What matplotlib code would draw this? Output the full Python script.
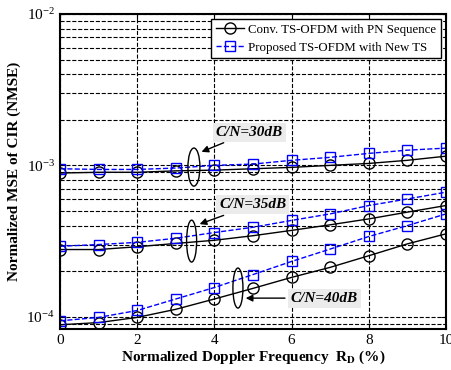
import numpy as np
import matplotlib.pyplot as plt
from matplotlib.patches import Ellipse

plt.rcParams['font.family'] = ['Liberation Serif', 'DejaVu Serif']
plt.rcParams['mathtext.fontset'] = 'stix'

doppler = [0, 1, 2, 3, 4, 5, 6, 7, 8, 9, 10]

conv_30 = [8.9e-4, 9.0e-4, 9.0e-4, 9.2e-4, 9.3e-4, 9.5e-4, 9.7e-4, 1.0e-3, 1.03e-3, 1.08e-3, 1.15e-3]
prop_30 = [9.5e-4, 9.4e-4, 9.4e-4, 9.6e-4, 1.0e-3, 1.02e-3, 1.08e-3, 1.13e-3, 1.2e-3, 1.26e-3, 1.3e-3]
conv_35 = [2.78e-4, 2.78e-4, 2.9e-4, 3.05e-4, 3.2e-4, 3.43e-4, 3.72e-4, 4.05e-4, 4.43e-4, 4.91e-4, 5.43e-4]
prop_35 = [2.92e-4, 3.0e-4, 3.1e-4, 3.3e-4, 3.6e-4, 3.9e-4, 4.33e-4, 4.78e-4, 5.43e-4, 6.0e-4, 6.65e-4]
conv_40 = [8.85e-5, 9.15e-5, 9.9e-5, 1.12e-4, 1.31e-4, 1.54e-4, 1.82e-4, 2.12e-4, 2.53e-4, 3.03e-4, 3.53e-4]
prop_40 = [9.4e-5, 9.9e-5, 1.1e-4, 1.31e-4, 1.56e-4, 1.9e-4, 2.32e-4, 2.8e-4, 3.39e-4, 4.0e-4, 4.78e-4]

labels = ['Conv. TS-OFDM with PN Sequence', 'Proposed TS-OFDM with New TS']

fig = plt.figure(figsize=(4.52, 3.70), dpi=100)
ax = fig.add_axes([0.1327, 0.1108, 0.854, 0.8514])

conv_style = dict(color='black', linestyle='-', linewidth=1.0, marker='o', markersize=8,
                  markerfacecolor='none', markeredgewidth=1.0)
prop_style = dict(color='#0000ff', linestyle='--', linewidth=1.0, marker='s', markersize=7,
                  markerfacecolor='none', markeredgewidth=1.0)

ax.plot(doppler, conv_30, label=labels[0], **conv_style)
ax.plot(doppler, prop_30, label=labels[1], **prop_style)
ax.plot(doppler, conv_35, **conv_style)
ax.plot(doppler, prop_35, **prop_style)
ax.plot(doppler, conv_40, **conv_style)
ax.plot(doppler, prop_40, **prop_style)

ax.set_yscale('log')
ax.set_xlim(0, 10)
ax.set_ylim(8.3e-5, 1e-2)
ax.set_xticks([0, 2, 4, 6, 8, 10])
ax.grid(True, which='major', color='black', linestyle='--', linewidth=0.8)
ax.grid(True, which='minor', axis='y', color='black', linestyle='--', linewidth=0.8)
ax.tick_params(which='both', direction='in', top=True, right=True, labelsize=11)
for s in ax.spines.values():
    s.set_linewidth(1.5)

ax.set_xlabel('Normalized Doppler Frequency  R$_\\mathbf{D}$ (%)', fontsize=11,
              fontweight='bold', labelpad=1)
ax.set_ylabel('Normalized MSE of CIR (NMSE)', fontsize=11, fontweight='bold', labelpad=4)

# ellipses around curve pairs (axes fraction coordinates)
for cx, cy, w, h in [(0.347, 0.514, 0.031, 0.121),
                     (0.341, 0.279, 0.026, 0.133),
                     (0.461, 0.130, 0.026, 0.127)]:
    ax.add_patch(Ellipse((cx, cy), w, h, transform=ax.transAxes,
                         fill=False, edgecolor='black', lw=1.0, zorder=4))

bbox = dict(boxstyle='square,pad=0.2', facecolor='#ebebeb', edgecolor='none')
txt = dict(fontsize=11, fontweight='bold', fontstyle='italic', va='center', ha='left',
           bbox=bbox, xycoords='axes fraction', textcoords='axes fraction')
arrow = dict(arrowstyle='-|>', color='black', lw=1.0, mutation_scale=10)

ax.annotate('C/N=30dB', xy=(0.360, 0.559), xytext=(0.404, 0.625), arrowprops=arrow, **txt)
ax.annotate('C/N=35dB', xy=(0.355, 0.330), xytext=(0.412, 0.394), arrowprops=arrow, **txt)
ax.annotate('C/N=40dB', xy=(0.474, 0.098), xytext=(0.598, 0.098), arrowprops=arrow, **txt)

leg = ax.legend(loc='upper right', fontsize=9.3, fancybox=False, edgecolor='black',
                framealpha=1, borderaxespad=0.4, handlelength=2.2, borderpad=0.35,
                labelspacing=0.45, handletextpad=0.3)
leg.get_frame().set_linewidth(1.0)

fig.savefig('out.png', dpi=100)
